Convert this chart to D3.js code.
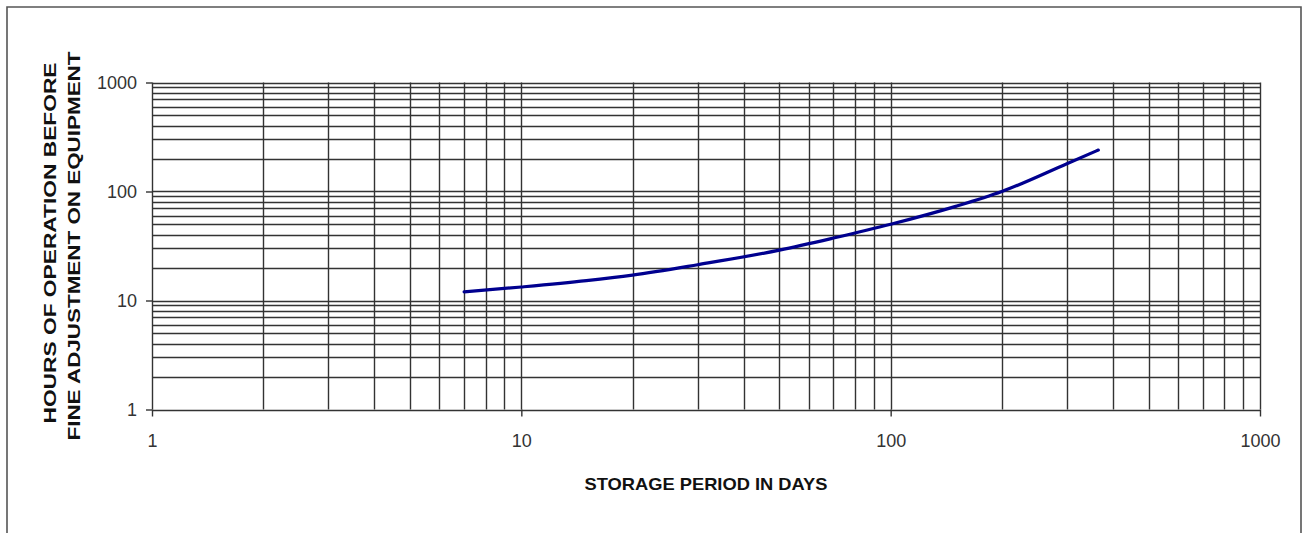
<!DOCTYPE html>
<html>
<head>
<meta charset="utf-8">
<script src="https://cdn.jsdelivr.net/npm/d3@7"></script>
<style>
  body { margin: 0; background: #fff; }
  text { font-family: "Liberation Sans", Arial, sans-serif; }
</style>
</head>
<body>
<div id="chart"></div>
<script>
// storage period (days) vs hours of operation
var days  = [7, 10, 15, 20, 30, 50, 70, 100, 150, 200, 300, 365];
var hours = [12, 13.3, 15.2, 17.1, 21.3, 29, 37.4, 50, 73, 100, 180, 240];
var xTicks = [1, 10, 100, 1000];
var yTicks = [1, 10, 100, 1000];

var width = 1308, height = 533;
var margin = {left: 152, right: 48, top: 82.5, bottom: 123.5};

var svg = d3.select("#chart").append("svg")
    .attr("width", width)
    .attr("height", height);

// outer frame (open at the bottom)
svg.append("path")
    .attr("d", "M7," + height + "V7H1301V" + height)
    .attr("fill", "none")
    .attr("stroke", "#555")
    .attr("stroke-width", 1.6);

var x = d3.scaleLog().domain([1, 1000]).range([margin.left, width - margin.right]);
var y = d3.scaleLog().domain([1, 1000]).range([height - margin.bottom, margin.top]);

// grid: every 1..9 per decade
var gridX = [], gridY = [];
for (var p = 1; p <= 100; p *= 10) {
  for (var k = 1; k <= 9; k++) { gridX.push(p * k); gridY.push(p * k); }
}
gridX.push(1000); gridY.push(1000);

var grid = svg.append("g");
grid.selectAll(".gx").data(gridX).enter().append("line")
    .attr("x1", function(d) { return Math.round(x(d)) + 0.5; })
    .attr("x2", function(d) { return Math.round(x(d)) + 0.5; })
    .attr("y1", y(1000)).attr("y2", y(1))
    .attr("stroke", "#333").attr("stroke-width", 1.4);
grid.selectAll(".gy").data(gridY).enter().append("line")
    .attr("y1", function(d) { return Math.round(y(d)) + 0.5; })
    .attr("y2", function(d) { return Math.round(y(d)) + 0.5; })
    .attr("x1", x(1)).attr("x2", x(1000))
    .attr("stroke", "#333").attr("stroke-width", 1.4);

// axes
var xAxis = d3.axisBottom(x).tickValues(xTicks).tickFormat(d3.format("d"))
    .tickSize(7).tickPadding(18);
var yAxis = d3.axisLeft(y).tickValues(yTicks).tickFormat(d3.format("d"))
    .tickSize(6).tickPadding(9);

var gx = svg.append("g")
    .attr("transform", "translate(0," + y(1) + ")")
    .call(xAxis);
var gy = svg.append("g")
    .attr("transform", "translate(" + x(1) + ",0)")
    .call(yAxis);

[gx, gy].forEach(function(g) {
  g.select(".domain").remove();
  g.selectAll("line").attr("stroke", "#333").attr("stroke-width", 1.4);
  g.selectAll("text")
      .attr("fill", "#333")
      .style("font-size", "18px")
      .style("font-family", "'Liberation Sans', Arial, sans-serif");
});

// curve
var line = d3.line()
    .x(function(d) { return x(d[0]); })
    .y(function(d) { return y(d[1]); })
    .curve(d3.curveMonotoneX);

svg.append("path")
    .datum(d3.zip(days, hours))
    .attr("d", line)
    .attr("fill", "none")
    .attr("stroke", "#00008f")
    .attr("stroke-width", 3.2)
    .attr("stroke-linecap", "round");

// titles
svg.append("text")
    .attr("x", 706).attr("y", 490)
    .attr("text-anchor", "middle")
    .attr("textLength", 243).attr("lengthAdjust", "spacingAndGlyphs")
    .style("font-size", "17px").style("font-weight", "bold")
    .attr("fill", "#111")
    .text("STORAGE PERIOD IN DAYS");

svg.append("text")
    .attr("transform", "translate(56,243) rotate(-90)")
    .attr("text-anchor", "middle")
    .attr("textLength", 361).attr("lengthAdjust", "spacingAndGlyphs")
    .style("font-size", "16px").style("font-weight", "bold")
    .attr("fill", "#111")
    .text("HOURS OF OPERATION BEFORE");

svg.append("text")
    .attr("transform", "translate(80,246) rotate(-90)")
    .attr("text-anchor", "middle")
    .attr("textLength", 389).attr("lengthAdjust", "spacingAndGlyphs")
    .style("font-size", "16px").style("font-weight", "bold")
    .attr("fill", "#111")
    .text("FINE ADJUSTMENT ON EQUIPMENT");
</script>
</body>
</html>
